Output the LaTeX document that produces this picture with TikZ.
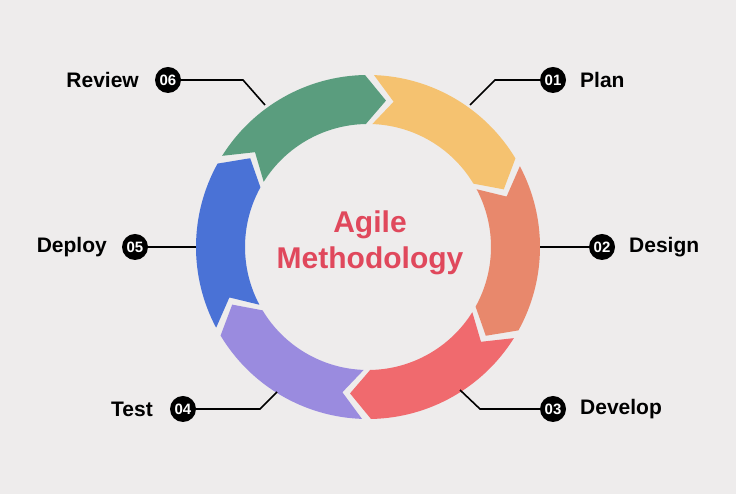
\documentclass[tikz,border=0pt]{standalone}
\usepackage{fontspec}
\setmainfont{Liberation Sans}
\begin{document}
\begin{tikzpicture}[x=1pt,y=1pt,
  num/.style={circle,fill=black,inner sep=0pt,minimum size=26pt,text=white,font=\bfseries\fontsize{15}{15}\selectfont},
  lab/.style={font=\bfseries\fontsize{21}{21}\selectfont,text=black,inner sep=0pt},
  lead/.style={line width=1.6pt,black}]
\definecolor{bg}{HTML}{EEECEC}
\definecolor{cPlan}{HTML}{F5C270}
\definecolor{cDesign}{HTML}{E8886C}
\definecolor{cDev}{HTML}{F06A6E}
\definecolor{cTest}{HTML}{9A8BDF}
\definecolor{cDeploy}{HTML}{4A72D6}
\definecolor{cReview}{HTML}{5A9D7E}
\definecolor{cTitle}{HTML}{E0485C}
\fill[bg] (0,0) rectangle (736,494);
\useasboundingbox (0,0) rectangle (736,494);
\begin{scope}[shift={(368,247)}]
\foreach \a/\c in {88/cPlan,28/cDesign,-32/cDev,-92/cTest,-152/cDeploy,148/cReview}{
  \fill[\c] (\a:172) arc[start angle=\a,end angle=\a-57,radius=172] -- (\a-65:147.5) -- (\a-57:123)
    arc[start angle=\a-57,end angle=\a,radius=123] -- (\a-8:147.5) -- cycle;
}
\end{scope}
\node[font=\bfseries\fontsize{30}{36}\selectfont,text=cTitle,align=center] (title) at (370,251) {Agile\\Methodology};
% numbers
\node[num] (n1) at (553,414) {01}; \node[lab,anchor=west] (l1) at (580,414) {Plan};
\node[num] (n2) at (602,247) {02}; \node[lab,anchor=west] (l2) at (629,247) {Design};
\node[num] (n3) at (553,85) {03}; \node[lab,anchor=west] (l3) at (580,85) {Develop};
\node[num] (n4) at (183,85) {04}; \node[lab,anchor=east] (l4) at (153,85) {Test};
\node[num] (n5) at (135,247) {05}; \node[lab,anchor=east] (l5) at (107,247) {Deploy};
\node[num] (n6) at (168,414) {06}; \node[lab,anchor=east] (l6) at (139,414) {Review};
\coordinate (a1) at (470,389); \coordinate (b1) at (495,414);
\coordinate (a2) at (540,247);
\coordinate (a3) at (460,104); \coordinate (b3) at (480,85);
\coordinate (a4) at (277,102); \coordinate (b4) at (260,85);
\coordinate (a5) at (196,247);
\coordinate (a6) at (265,389); \coordinate (b6) at (243,414);
\draw[lead] (a1) -- (b1) -- (n1);
\draw[lead] (a2) -- (n2);
\draw[lead] (a3) -- (b3) -- (n3);
\draw[lead] (a4) -- (b4) -- (n4);
\draw[lead] (a5) -- (n5);
\draw[lead] (a6) -- (b6) -- (n6);
\end{tikzpicture}
\end{document}
